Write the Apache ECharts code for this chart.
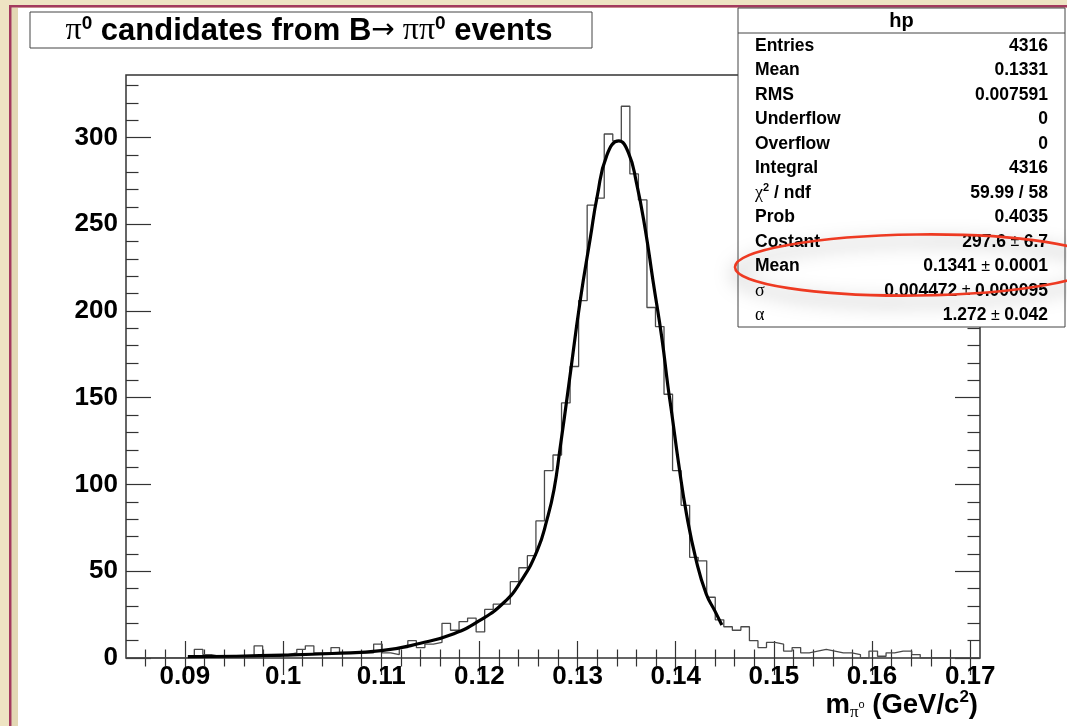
<!DOCTYPE html>
<html><head><meta charset="utf-8">
<script src="https://cdn.jsdelivr.net/npm/echarts@6/dist/echarts.min.js"></script>
<style>html,body{margin:0;padding:0;background:#eee4c3;}#c{width:1067px;height:726px;}</style>
</head><body><div id="c"></div>
<script>
// ---- data ----
const xMin = 0.084, xMax = 0.171, yMax = 336;
const binLow = 0.084, binWidth = 0.00087;
const binCounts = [
  0,0,0,0,0,0,0,1,5,2,
  1,1,1,1,1,7,1,1,2,3,
  5,7,3,3,6,3,3,3,3,8,
  3,2,6,10,6,8,9,20,16,21,
  23,15,28,31,31,44,52,59,79,108,
  117,147,168,206,261,265,302,298,318,279,
  264,202,191,152,108,88,58,56,35,22,
  18,16,18,10,6,9,8,4,6,3,
  4,5,4,3,3,2,0,4,1,3,
  4,4,2,0,0,0,0,0,0,0
];
const fitX = [0.0903,0.095,0.100,0.105,0.110,0.114,0.1174,0.120,0.1225,0.1242,0.1259,0.1269,0.1276,0.1282,0.1291,0.1303,0.1313,0.1320,0.1330,0.1342,0.1352,0.1360,0.1369,0.1377,0.1386,0.1392,0.1396,0.1403,0.1411,0.1421,0.1431,0.1440,0.1447];
const fitY = [0.8,1.0,1.6,2.6,4.2,8.5,14,21.5,32,44,62,80,97,120,157,207,242,266,290,298,291,274,247,217,184,157,141,112,83,56,37,27,19];
const xMajorTicks = [0.09,0.10,0.11,0.12,0.13,0.14,0.15,0.16,0.17];
const xMajorLabels = ['0.09','0.1','0.11','0.12','0.13','0.14','0.15','0.16','0.17'];
const xMinorTicks = [0.086,0.088,0.092,0.094,0.096,0.098,0.102,0.104,0.106,0.108,0.112,0.114,0.116,0.118,0.122,0.124,0.126,0.128,0.132,0.134,0.136,0.138,0.142,0.144,0.146,0.148,0.152,0.154,0.156,0.158,0.162,0.164,0.166,0.168];
const yMajorTicks = [0,50,100,150,200,250,300];
const yMinorTicks = [10,20,30,40,60,70,80,90,110,120,130,140,160,170,180,190,210,220,230,240,260,270,280,290,310,320,330];
const statsTitle = 'hp';
const statLabels = ['Entries','Mean','RMS','Underflow','Overflow','Integral','χ² / ndf','Prob','Costant','Mean','σ','α'];
const statValues = ['4316','0.1331','0.007591','0','0','4316','59.99 / 58','0.4035','297.6 ± 6.7','0.1341 ± 0.0001','0.004472 ± 0.000095','1.272 ± 0.042'];

// ---- build ----
const histData = binCounts.map((v, i) => [binLow + i * binWidth, v]);
histData.push([binLow + binCounts.length * binWidth, binCounts[binCounts.length - 1]]);
const fitData = fitX.map((x, i) => [x, fitY[i]]);

const SANS = '"Liberation Sans", Arial, Helvetica, sans-serif';
const SERIF = '"Liberation Serif", "DejaVu Serif", serif';

function richLabel(s) {
  if (s === 'χ² / ndf') return '{g|χ}{sup|2}{b| / ndf}';
  if (s === 'σ' || s === 'α') return '{g|' + s + '}';
  return '{b|' + s + '}';
}
function richValue(s) {
  const p = s.split(' ± ');
  if (p.length === 2) return '{b|' + p[0] + '}{pm| ± }{b|' + p[1] + '}';
  return '{b|' + s + '}';
}
const statRich = {
  b: {fontFamily: SANS, fontWeight: 'bold', fontSize: 17.5, fill: '#000', lineHeight: 22},
  g: {fontFamily: SERIF, fontSize: 18, fill: '#000', lineHeight: 22},
  pm: {fontFamily: SANS, fontSize: 16, fill: '#000', lineHeight: 22},
  sup: {fontFamily: SANS, fontWeight: 'bold', fontSize: 11, fill: '#000', verticalAlign: 'top', lineHeight: 22}
};

const graphics = [
  {type: 'rect', z: -10, shape: {x: 18, y: 8, width: 1049, height: 718}, style: {fill: '#fff'}},
  {type: 'rect', z: -9, shape: {x: 11.5, y: 8, width: 6.5, height: 718}, style: {fill: '#e3d8b4'}},
  {type: 'rect', z: -9, shape: {x: 9, y: 5, width: 2.5, height: 721}, style: {fill: '#a33a5e'}},
  {type: 'rect', z: -9, shape: {x: 9, y: 5, width: 1058, height: 2.5}, style: {fill: '#a33a5e'}},
  // title box
  {type: 'rect', z: 100, shape: {x: 30, y: 12, width: 562, height: 36}, style: {fill: '#fff', stroke: '#444', lineWidth: 1}},
  {type: 'text', z: 101, style: {
    x: 309, y: 31, align: 'center', verticalAlign: 'middle',
    text: '{g|π}{sup|0}{b| candidates from B}{a|→}{g| ππ}{sup|0}{b| events}',
    rich: {
      b: {fontFamily: SANS, fontWeight: 'bold', fontSize: 31, fill: '#000', lineHeight: 34},
      g: {fontFamily: SERIF, fontSize: 32, fill: '#000', lineHeight: 34},
      a: {fontFamily: '"DejaVu Sans", sans-serif', fontSize: 28, fill: '#000', lineHeight: 34},
      sup: {fontFamily: SANS, fontWeight: 'bold', fontSize: 19, fill: '#000', verticalAlign: 'top', lineHeight: 34}
    }
  }},
  // stats box
  {type: 'rect', z: 100, shape: {x: 738, y: 8, width: 327, height: 319}, style: {fill: '#fff', stroke: '#444', lineWidth: 1}},
  {type: 'line', z: 101, shape: {x1: 738, y1: 33, x2: 1065, y2: 33}, style: {stroke: '#444', lineWidth: 1}},
  {type: 'text', z: 101, style: {x: 901.5, y: 21, align: 'center', verticalAlign: 'middle', text: statsTitle,
    font: 'bold 20px ' + SANS, fill: '#000'}},
  // x axis title
  {type: 'text', z: 101, style: {
    x: 978, y: 705, align: 'right', verticalAlign: 'middle',
    text: '{b|m}{sub|π}{sub2|o}{b| (GeV/c}{sup|2}{b|)}',
    rich: {
      b: {fontFamily: SANS, fontWeight: 'bold', fontSize: 27.5, fill: '#000', lineHeight: 32},
      sub: {fontFamily: SERIF, fontSize: 17, fill: '#000', verticalAlign: 'bottom', lineHeight: 27},
      sub2: {fontFamily: SANS, fontSize: 11, fill: '#000', verticalAlign: 'middle', lineHeight: 32},
      sup: {fontFamily: SANS, fontWeight: 'bold', fontSize: 17, fill: '#000', verticalAlign: 'top', lineHeight: 32}
    }
  }},
  // highlight ellipse
  {type: 'ellipse', z: 120, rotation: 0.012, originX: 917, originY: 265,
   shape: {cx: 917, cy: 265, rx: 182, ry: 30.5},
   style: {fill: null, stroke: '#ee3a22', lineWidth: 2.6, shadowBlur: 18, shadowColor: 'rgba(0,0,0,0.5)', shadowOffsetY: 7}}
];
statLabels.forEach((s, i) => {
  const y = 46 + i * 24.5;
  graphics.push({type: 'text', z: 101, style: {x: 755, y: y, align: 'left', verticalAlign: 'middle', text: richLabel(s), rich: statRich}});
  graphics.push({type: 'text', z: 101, style: {x: 1048, y: y, align: 'right', verticalAlign: 'middle', text: richValue(statValues[i]), rich: statRich}});
});

function xAxisDef(pos, ticks, len, labels) {
  return {
    type: 'value', position: pos, min: xMin, max: xMax,
    axisLine: {show: false}, splitLine: {show: false},
    axisTick: {show: true, inside: true, length: len, customValues: ticks, lineStyle: {color: '#333', width: 1.2}},
    axisLabel: labels ? {show: true, customValues: ticks, margin: 6,
      formatter: v => { const i = xMajorTicks.findIndex(t => Math.abs(t - v) < 1e-9); return i >= 0 ? xMajorLabels[i] : ''; },
      fontFamily: SANS, fontWeight: 'bold', fontSize: 26, color: '#000'} : {show: false}
  };
}
function yAxisDef(pos, ticks, len, labels) {
  return {
    type: 'value', position: pos, min: 0, max: yMax,
    axisLine: {show: false}, splitLine: {show: false},
    axisTick: {show: true, inside: true, length: len, customValues: ticks, lineStyle: {color: '#333', width: 1.2}},
    axisLabel: labels ? {show: true, customValues: ticks, margin: 8,
      fontFamily: SANS, fontWeight: 'bold', fontSize: 26, color: '#000'} : {show: false}
  };
}

const chart = echarts.init(document.getElementById('c'), null, {renderer: 'canvas'});
chart.setOption({
  backgroundColor: '#eee4c3',
  animation: false,
  grid: {left: 126, right: 87, top: 75, bottom: 68, show: true, backgroundColor: '#fff', borderColor: '#333', borderWidth: 1.5},
  xAxis: [
    xAxisDef('bottom', xMajorTicks, 17, true),
    xAxisDef('bottom', xMinorTicks, 8.5, false),
    xAxisDef('top', xMajorTicks, 17, false),
    xAxisDef('top', xMinorTicks, 8.5, false)
  ],
  yAxis: [
    yAxisDef('left', yMajorTicks, 25, true),
    yAxisDef('left', yMinorTicks, 12.5, false),
    yAxisDef('right', yMajorTicks, 25, false),
    yAxisDef('right', yMinorTicks, 12.5, false)
  ],
  graphic: graphics,
  series: [
    {type: 'line', name: 'hp', data: histData, step: 'end', showSymbol: false, z: 3,
     lineStyle: {color: '#4a4a4a', width: 1.3}},
    {type: 'line', name: 'fit', data: fitData, smooth: true, showSymbol: false, z: 4,
     lineStyle: {color: '#000', width: 3.2}}
  ]
});
</script></body></html>
